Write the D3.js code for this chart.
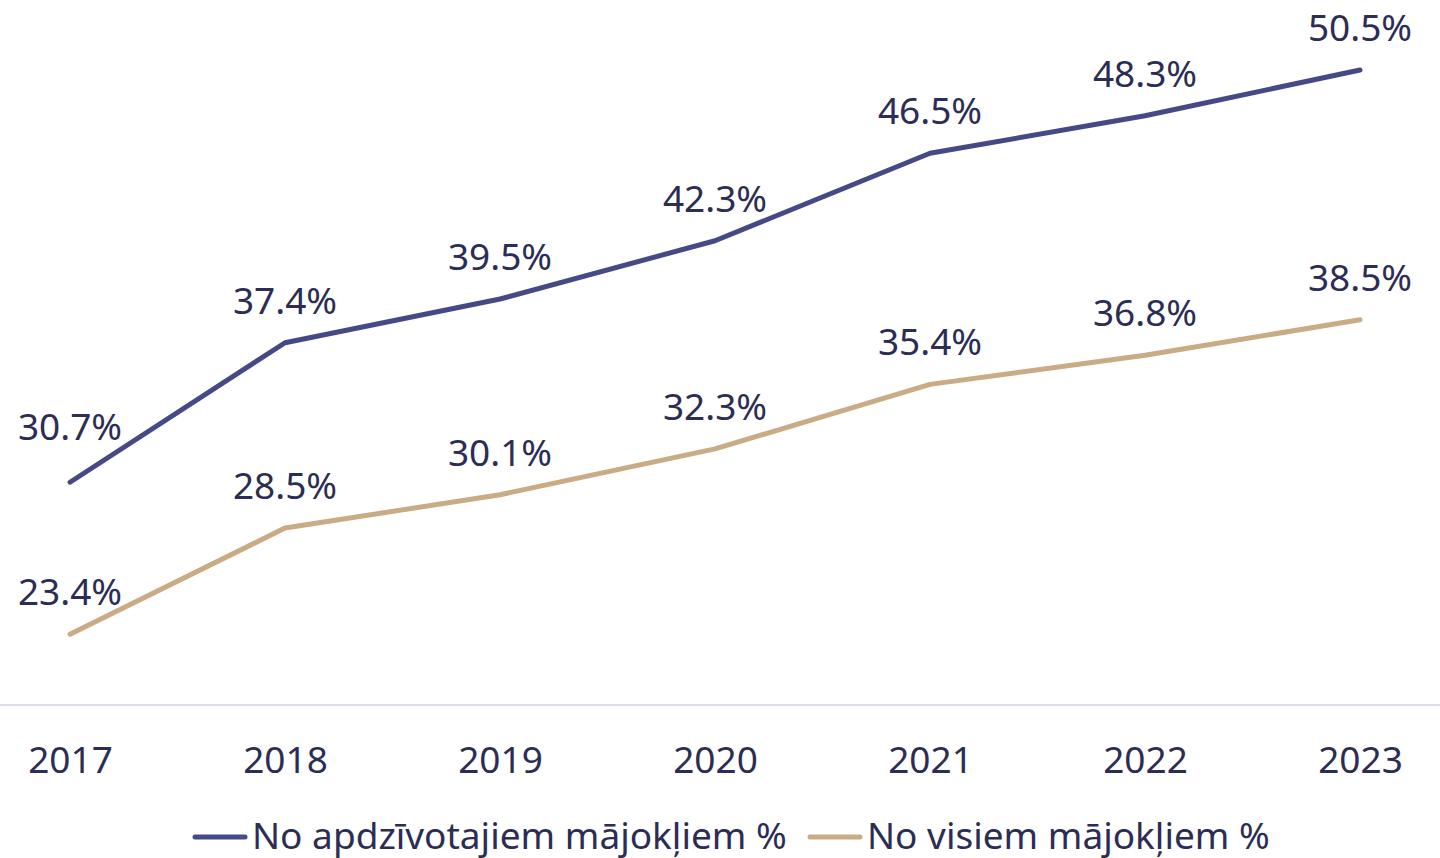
<!DOCTYPE html>
<html><head><meta charset="utf-8">
<script src="https://cdn.jsdelivr.net/npm/d3@7"></script>
<style>html,body{margin:0;padding:0;background:#fff;}svg{display:block;font-family:"Noto Sans","Open Sans",sans-serif;}</style>
</head><body>
<svg id="c" width="1440" height="858"></svg>
<script>
const years = ["2017","2018","2019","2020","2021","2022","2023"];
const occupied = [30.7, 37.4, 39.5, 42.3, 46.5, 48.3, 50.5];
const allDwellings = [23.4, 28.5, 30.1, 32.3, 35.4, 36.8, 38.5];
const seriesNames = ["No apdzīvotajiem mājokļiem %", "No visiem mājokļiem %"];
const seriesColors = ["#454a86", "#c9ab86"];

const svg = d3.select("#c");
const textColor = "#2b2d55";
const fs = 37;
const x = d3.scalePoint().domain(years).range([70, 1360]);
const y = d3.scaleLinear().domain([20, 50.5]).range([705, 70]);

svg.append("line").attr("x1", 0).attr("x2", 1440).attr("y1", y(20)).attr("y2", y(20))
  .attr("stroke", "#dcdcee").attr("stroke-width", 2);

const xAxis = d3.axisBottom(x).tickSize(0).tickPadding(0);
const gx = svg.append("g").attr("transform", `translate(0,${y(20)})`).call(xAxis);
gx.select(".domain").remove();
gx.selectAll("text").attr("font-size", fs).attr("fill", textColor)
  .attr("font-family", "Noto Sans, Open Sans, sans-serif").attr("dy", null).attr("y", 68);

const series = [occupied, allDwellings];
const line = d3.line().x((d, i) => x(years[i])).y(d => y(d));
series.forEach((vals, s) => {
  svg.append("path").datum(vals).attr("d", line).attr("fill", "none")
    .attr("stroke", seriesColors[s]).attr("stroke-width", 5)
    .attr("stroke-linecap", "round").attr("stroke-linejoin", "round");
  svg.selectAll(null).data(vals).enter().append("text")
    .attr("x", (d, i) => x(years[i]))
    .attr("y", (d, i) => y(d) - ((s === 0 && i === 0) ? 42 : 29))
    .attr("text-anchor", "middle").attr("font-size", fs).attr("fill", textColor)
    .text(d => d.toFixed(1) + "%");
});

const legendX = [193, 808];
seriesNames.forEach((n, s) => {
  const g = svg.append("g").attr("transform", `translate(${legendX[s]},837)`);
  g.append("line").attr("x1", 2).attr("x2", 52).attr("stroke", seriesColors[s])
    .attr("stroke-width", 5).attr("stroke-linecap", "round");
  g.append("text").attr("x", 59).attr("y", 12).attr("font-size", fs).attr("fill", textColor).text(n);
});
</script>
</body></html>
